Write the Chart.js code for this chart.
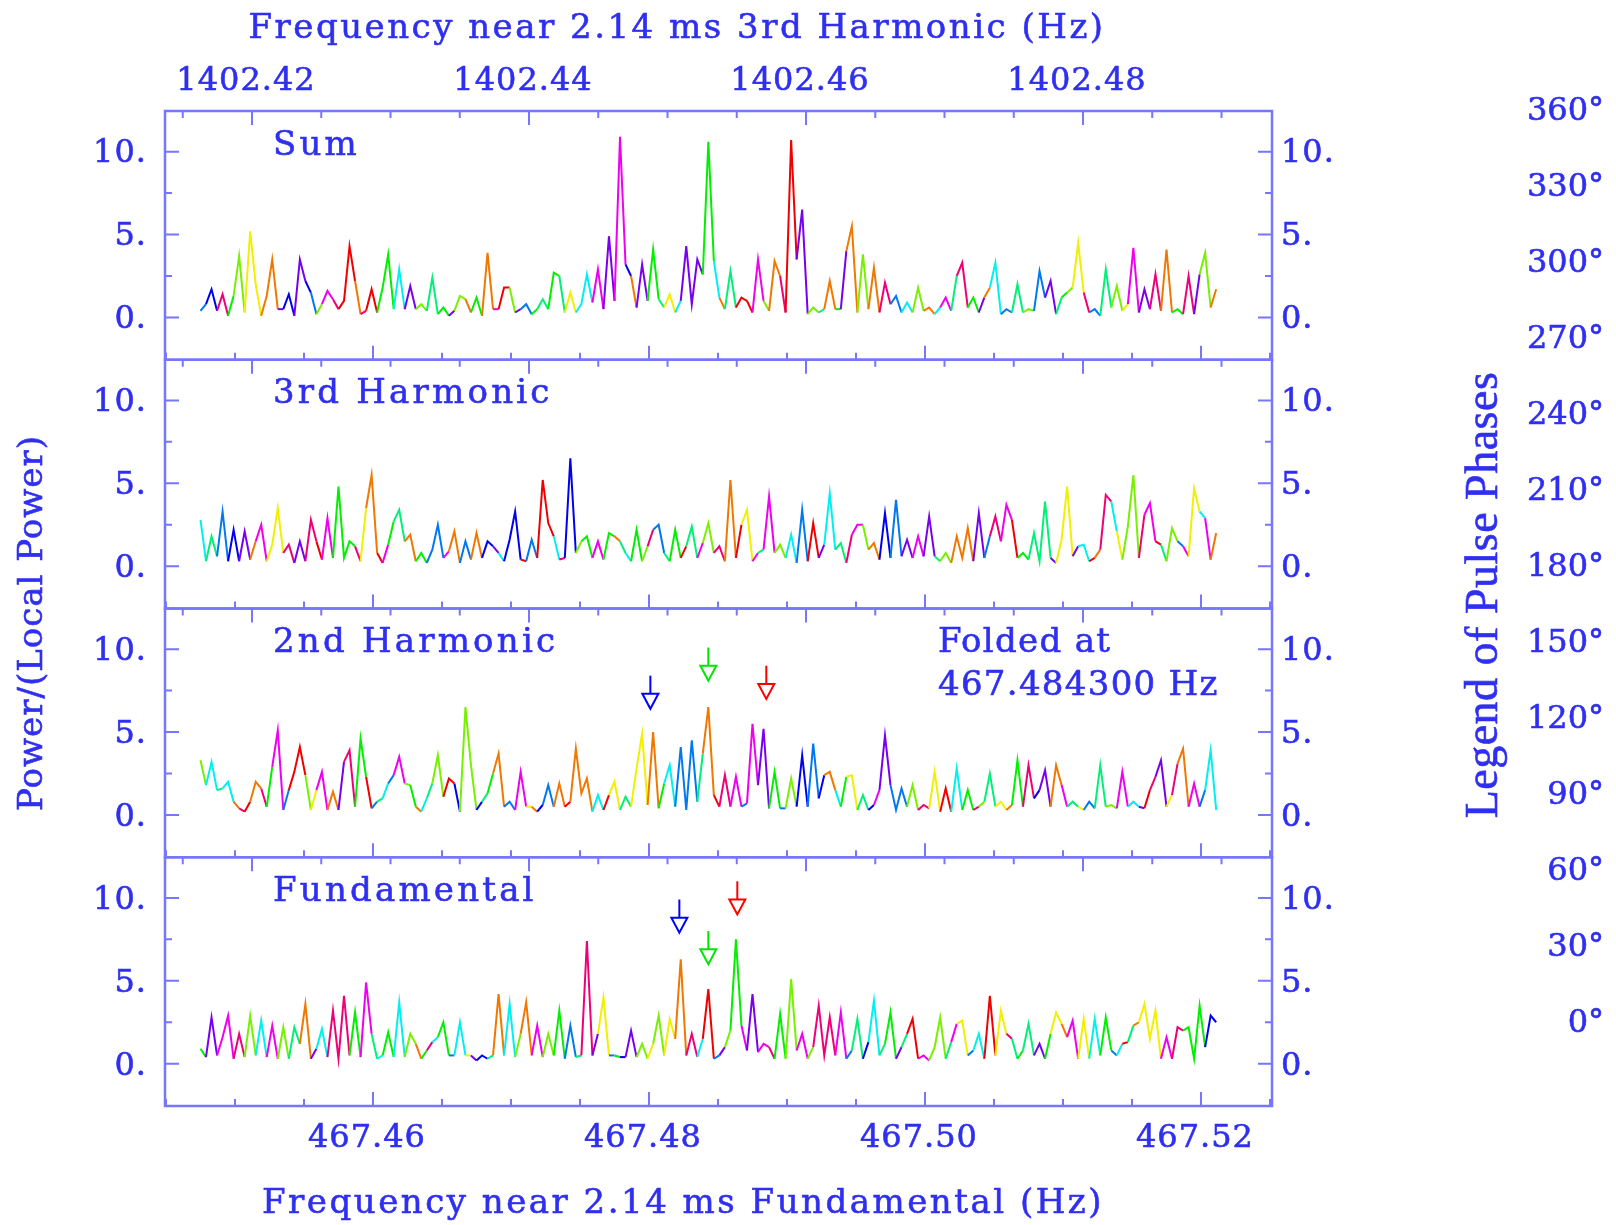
<!DOCTYPE html>
<html><head><meta charset="utf-8">
<script src="https://cdn.jsdelivr.net/npm/chart.js"></script>
<style>html,body{margin:0;padding:0;background:#fff;}canvas{display:block;}</style>
</head><body>
<canvas id="c" width="1616" height="1225"></canvas>
<script>
// ---- frequency grid (fundamental, Hz) ----
const freqs = [
467.4475,467.4479,467.4483,467.4487,467.4491,467.4495,467.4499,467.4503,467.4507,467.4511,
467.4515,467.4519,467.4523,467.4527,467.4531,467.4535,467.4539,467.4543,467.4547,467.4551,
467.4555,467.4559,467.4563,467.4567,467.4571,467.4575,467.4579,467.4583,467.4587,467.4591,
467.4595,467.4599,467.4603,467.4607,467.4611,467.4615,467.4619,467.4623,467.4627,467.4631,
467.4635,467.4639,467.4643,467.4647,467.4651,467.4655,467.4659,467.4663,467.4667,467.4671,
467.4675,467.4679,467.4683,467.4687,467.4691,467.4695,467.4699,467.4703,467.4707,467.4711,
467.4715,467.4719,467.4723,467.4727,467.4731,467.4735,467.4739,467.4743,467.4747,467.4751,
467.4755,467.4759,467.4763,467.4767,467.4771,467.4775,467.4779,467.4783,467.4787,467.4791,
467.4795,467.4799,467.4803,467.4807,467.4811,467.4815,467.4819,467.4823,467.4827,467.4831,
467.4835,467.4839,467.4843,467.4847,467.4851,467.4855,467.4859,467.4863,467.4867,467.4871,
467.4875,467.4879,467.4883,467.4887,467.4891,467.4895,467.4899,467.4903,467.4907,467.4911,
467.4915,467.4919,467.4923,467.4927,467.4931,467.4935,467.4939,467.4943,467.4947,467.4951,
467.4955,467.4959,467.4963,467.4967,467.4971,467.4975,467.4979,467.4983,467.4987,467.4991,
467.4995,467.4999,467.5003,467.5007,467.5011,467.5015,467.5019,467.5023,467.5027,467.5031,
467.5035,467.5039,467.5043,467.5047,467.5051,467.5055,467.5059,467.5063,467.5067,467.5071,
467.5075,467.5079,467.5083,467.5087,467.5091,467.5095,467.5099,467.5103,467.5107,467.5111,
467.5115,467.5119,467.5123,467.5127,467.5131,467.5135,467.5139,467.5143,467.5147,467.5151,
467.5155,467.5159,467.5163,467.5167,467.5171,467.5175,467.5179,467.5183,467.5187,467.5191,
467.5195,467.5199,467.5203,467.5207,467.5211];

// ---- Sum panel ----
const sumPower = [
0.4,0.8,1.7,0.4,1.4,0.1,1.3,3.7,0.3,5.2,
2.0,0.1,1.3,3.5,0.5,0.5,1.4,0.1,3.5,2.2,
1.5,0.2,0.8,1.6,1.1,0.5,1.0,4.3,2.2,0.2,
0.4,1.7,0.3,1.8,3.8,0.5,2.9,0.5,1.9,0.5,
0.8,0.4,2.4,0.2,0.6,0.1,0.4,1.3,1.1,0.3,
1.2,0.1,3.9,0.5,0.5,1.8,1.8,0.3,0.5,0.8,
0.2,0.5,1.1,0.5,2.7,2.5,0.3,1.5,0.3,0.8,
2.6,0.9,2.9,0.5,4.9,1.0,10.9,3.2,2.5,0.6,
3.2,1.0,4.1,1.1,0.6,1.4,0.3,1.0,4.3,0.8,
3.5,2.6,10.6,3.4,1.2,0.5,2.8,0.6,1.2,1.0,
0.3,3.5,1.0,0.4,3.4,2.5,0.3,10.7,3.5,6.5,
0.2,0.6,0.3,0.5,2.2,0.5,0.5,4.0,5.5,0.3,
3.8,0.5,3.0,0.3,2.1,0.8,1.3,0.3,0.9,0.3,
1.8,0.4,0.6,0.2,0.6,1.2,0.4,2.5,3.3,0.6,
1.2,0.3,1.2,1.8,3.3,0.2,0.5,0.3,2.0,0.3,
0.5,0.4,2.8,1.2,2.2,0.2,1.2,1.5,1.8,4.5,
1.5,0.3,0.5,0.1,2.9,0.6,1.9,0.4,0.8,4.2,
0.3,1.7,0.5,2.6,0.4,4.1,0.3,0.5,0.2,2.5,
0.2,2.6,3.9,0.6,1.7];
const sumPhase = [
6,7,8,3,11,0,4,3,5,2,
2,10,1,1,9,6,8,9,9,8,
7,1,3,10,11,1,0,0,1,9,
11,0,5,4,4,9,6,7,9,4,
3,7,5,10,4,3,9,3,1,2,
4,9,1,10,11,0,3,4,9,7,
2,4,5,3,4,5,1,2,11,6,
6,3,10,11,9,7,10,8,1,3,
9,11,4,5,8,2,3,6,9,10,
9,2,4,6,1,5,5,11,0,0,
5,10,3,6,1,11,4,0,8,9,
4,3,6,5,1,4,3,9,1,6,
3,2,1,10,11,8,7,3,6,4,
3,7,1,4,6,10,9,5,11,0,
4,2,9,1,6,1,7,8,5,11,
3,9,7,10,9,6,5,4,3,2,
11,1,7,0,5,9,3,6,2,10,
8,9,6,11,3,1,0,4,6,11,
7,9,3,11,1];

// ---- 3rd Harmonic panel ----
const h3Power = [
2.8,0.3,1.8,0.6,3.3,0.3,2.2,0.3,2.1,0.4,
1.5,2.5,0.3,1.3,3.5,0.8,1.3,0.2,1.5,0.3,
2.8,1.5,0.4,2.9,0.5,4.8,0.5,1.5,1.2,0.3,
3.5,5.5,0.8,0.2,1.3,2.7,3.4,1.5,1.9,0.3,
0.8,0.2,1.0,2.5,0.5,0.9,2.1,0.2,1.5,0.4,
2.0,0.5,1.5,1.2,0.8,0.3,1.6,3.3,0.4,0.3,
1.6,0.5,5.2,2.6,1.8,0.4,0.5,6.5,0.8,1.5,
1.8,0.5,1.5,0.4,2.0,1.8,1.5,0.8,0.3,2.2,
0.3,1.2,2.2,2.5,0.8,0.3,2.2,0.5,1.2,2.4,
0.5,1.4,2.6,0.8,1.2,0.3,5.2,0.5,2.5,3.4,
0.3,0.8,1.0,4.2,0.8,1.3,0.5,1.9,0.2,3.4,
0.3,2.6,0.5,1.3,4.4,1.0,1.4,0.2,1.9,2.5,
2.5,1.0,1.4,0.4,3.2,0.5,4.0,0.6,1.6,0.5,
1.8,0.6,3.0,0.6,0.3,0.8,0.2,1.8,0.5,2.3,
0.3,3.2,0.5,1.8,3.0,1.5,3.7,2.8,0.5,0.8,
0.4,2.0,0.3,3.9,0.5,0.2,1.6,4.8,0.6,1.2,
1.3,0.3,0.5,1.0,4.3,3.9,2.1,0.4,2.4,5.5,
0.5,3.1,3.8,1.5,1.3,0.3,2.3,1.5,1.2,0.6,
4.7,3.3,2.9,0.4,2.0];
const h3Phase = [
6,1,5,7,7,11,8,3,9,0,
1,10,4,2,2,6,11,10,9,11,
11,0,10,10,2,4,5,4,11,3,
2,1,0,9,10,4,5,5,1,7,
4,9,7,7,3,10,1,6,7,3,
1,11,8,9,6,5,8,8,0,4,
7,5,0,0,6,8,11,8,6,3,
4,1,10,2,4,1,5,6,9,4,
10,3,11,7,5,3,4,8,0,5,
1,10,3,4,11,1,1,9,0,2,
3,10,5,10,11,3,8,6,1,7,
0,0,5,9,6,2,5,4,11,10,
3,8,1,4,8,6,7,0,9,2,
10,1,9,5,0,3,6,1,10,1,
4,9,3,7,11,10,10,0,6,4,
3,5,7,5,9,4,2,2,8,9,
6,5,0,1,11,6,2,4,3,3,
9,11,10,0,5,1,3,7,10,9,
2,6,10,4,1];

// ---- 2nd Harmonic panel ----
const h2Power = [
3.3,1.8,3.2,1.5,1.6,2.0,0.8,0.4,0.2,0.8,
2.0,1.6,0.5,2.9,5.1,0.3,1.5,2.6,4.1,2.4,
0.3,1.5,2.6,0.3,1.4,0.3,3.2,3.9,0.5,4.6,
2.3,0.4,0.8,1.0,1.9,2.4,3.5,1.9,1.8,0.5,
0.2,1.0,1.9,3.6,1.1,2.2,1.9,0.2,6.5,3.0,
0.3,0.8,1.3,2.5,3.7,0.5,0.8,0.3,2.6,0.5,
0.5,0.2,0.6,1.8,0.5,1.9,0.5,0.8,4.0,1.3,
2.2,0.2,1.2,0.3,1.2,2.0,0.3,1.1,0.5,2.8,
4.9,0.6,5.0,0.4,1.9,3.0,0.5,4.1,0.3,4.5,
0.8,3.7,6.5,1.2,0.5,2.4,0.5,2.3,0.5,0.7,
5.5,1.8,5.2,0.4,2.6,0.4,0.4,2.2,0.5,3.6,
0.5,4.3,1.0,2.4,2.6,1.5,0.5,2.3,2.4,0.3,
1.2,0.3,0.6,1.5,4.8,1.8,0.3,1.6,0.5,1.8,
0.3,0.6,0.4,2.6,0.2,1.6,0.2,2.8,0.3,1.5,
0.3,0.5,0.8,2.5,0.5,0.8,0.3,0.6,3.3,0.5,
3.0,1.0,1.5,2.7,0.5,3.0,1.8,0.5,0.8,0.5,
0.3,0.8,0.4,3.0,0.5,0.6,0.4,2.6,0.5,0.8,
0.5,0.4,1.5,2.3,3.3,0.5,1.2,3.1,4.0,0.5,
1.9,0.5,1.5,3.9,0.3];
const h2Phase = [
3,10,6,7,5,6,1,11,4,0,
1,11,5,4,10,9,7,0,0,3,
10,2,10,6,1,5,9,11,4,4,
0,3,7,5,6,7,10,3,4,1,
2,6,5,3,7,0,8,9,3,3,
6,8,5,4,1,3,7,11,10,2,
1,4,8,7,6,1,5,0,1,11,
1,3,6,10,0,2,10,5,9,2,
2,0,1,11,4,6,10,7,0,7,
4,5,1,0,6,11,5,10,3,7,
10,1,9,8,4,7,10,3,4,8,
5,7,4,8,1,6,9,4,2,11,
5,3,8,10,9,7,1,7,4,3,
10,11,9,2,5,0,3,6,9,4,
2,11,3,5,0,2,7,1,4,10,
11,0,8,9,3,1,10,6,5,2,
4,7,11,5,0,3,8,10,1,6,
9,2,0,11,9,5,2,11,1,4,
10,3,7,6,1];

// ---- Fundamental panel ----
const fundPower = [
0.9,0.4,2.8,0.5,1.6,2.9,0.3,1.8,0.4,2.9,
0.5,2.6,0.4,2.3,0.3,2.2,0.3,2.2,1.2,3.6,
0.3,0.9,2.1,0.4,3.2,0.3,4.1,0.5,3.1,0.4,
4.9,1.8,0.3,0.5,1.9,0.4,3.7,0.4,1.8,1.2,
0.3,0.8,1.3,1.6,2.5,0.5,0.5,2.5,0.5,0.5,
0.2,0.5,0.3,0.5,4.2,0.5,3.6,0.4,1.8,3.7,
0.5,2.3,0.4,1.8,0.5,3.2,0.3,2.3,0.4,0.5,
7.4,0.5,1.8,4.0,0.5,0.5,0.4,0.4,2.0,0.4,
1.2,0.3,1.2,2.9,0.5,2.7,1.5,6.3,0.5,1.8,
0.4,1.5,4.5,0.3,0.5,1.0,2.0,7.5,2.3,0.8,
4.2,0.7,1.2,1.0,0.3,3.0,0.3,5.1,0.8,1.8,
0.3,1.0,3.5,0.5,2.8,0.5,3.1,0.3,0.8,2.7,
0.3,1.3,3.8,0.5,1.2,3.1,0.3,1.0,1.8,2.7,
0.3,0.5,0.2,1.0,2.8,0.3,1.3,2.4,2.6,0.5,
0.8,1.8,0.3,4.1,0.5,3.2,1.8,1.5,0.3,0.8,
2.4,0.5,1.2,0.3,1.8,3.1,2.4,1.6,2.6,0.3,
2.7,0.3,2.7,0.5,2.8,0.8,0.5,1.2,1.3,2.3,
2.5,3.6,1.5,3.2,0.3,1.6,0.3,2.2,2.0,2.2,
0.3,3.5,1.0,2.9,2.5];
const fundPhase = [
4,5,9,2,10,10,3,11,6,3,
9,6,7,10,8,3,6,5,1,1,
8,9,6,0,11,6,11,2,4,7,
10,5,9,6,4,7,6,8,3,1,
5,4,11,6,4,7,6,6,2,9,
5,8,3,5,1,6,6,0,3,1,
6,10,8,3,7,4,2,7,9,5,
11,0,9,2,7,4,8,11,9,6,
3,5,2,3,10,2,4,1,0,11,
8,6,0,5,7,9,3,4,10,3,
9,5,10,11,7,4,1,3,0,10,
6,3,11,8,11,6,10,4,7,5,
2,8,6,11,5,4,0,9,5,0,
7,10,6,3,3,8,5,10,2,3,
7,6,1,0,9,2,11,5,8,4,
5,3,9,6,4,2,1,10,10,11,
2,5,6,9,4,7,3,6,0,5,
1,2,6,2,9,10,6,11,10,4,
7,4,10,8,0];

// ---- labels / annotations ----
const panelNames = ['Sum', '3rd Harmonic', '2nd Harmonic', 'Fundamental'];
const bottomTickLabels = ['467.46', '467.48', '467.50', '467.52'];
const topTickLabels = ['1402.42', '1402.44', '1402.46', '1402.48'];
const yTickLabels = ['0.', '5.', '10.'];
const yTickValues = [0, 5, 10];
const yMinorValues = [2.5, 7.5];
const legendPhaseLabels = ['360°','330°','300°','270°','240°','210°','180°','150°','120°','90°','60°','30°','0°'];
const h2ArrowFreqs = [467.4801, 467.4843, 467.4885];
const h2ArrowTips = [6.4, 8.1, 7.0];
const fundArrowFreqs = [467.4822, 467.4843, 467.4864];
const fundArrowTips = [7.9, 6.0, 9.0];
const arrowColors = ['#0000ff', '#00e600', '#ff0000'];

const TEXT = '#2f2ff2', FRAME = '#7676ff';
const Y_MIN = -2.55, Y_MAX = 12.45, SPAN = 15;
const panelIds = ['ySum', 'yH3', 'yH2', 'yFund'];
const panelPower = [sumPower, h3Power, h2Power, fundPower];
const panelPhase = [sumPhase, h3Phase, h2Phase, fundPhase];

function hueColor(p) { return 'hsl(' + (p * 30) + ',100%,47%)'; }
function segColor(k, c) {
  const v = panelPower[k], ph = panelPhase[k];
  const i0 = c.p0DataIndex, i1 = c.p1DataIndex;
  let p = (v[i1] > v[i0]) ? ph[i1] : ph[i0];
  if (p === undefined) p = 8;
  return hueColor(p);
}
function drawText(ctx, s, x, y, font, align, spacing, rot) {
  ctx.save();
  ctx.translate(x, y);
  if (rot) ctx.rotate(rot);
  ctx.font = font; ctx.textAlign = align; ctx.textBaseline = 'middle';
  if ('letterSpacing' in ctx) ctx.letterSpacing = (spacing || 0) + 'px';
  ctx.fillStyle = TEXT;
  ctx.strokeStyle = TEXT;
  ctx.lineWidth = 0.6;
  ctx.fillText(s, 0, 2.5);
  ctx.strokeText(s, 0, 2.5);
  ctx.restore();
}

const TICK_FONT = '32px "DejaVu Serif"';
const TITLE_FONT = '34px "DejaVu Serif"';

const framePlugin = {
  id: 'framePlugin',
  afterDraw(chart) {
    const ctx = chart.ctx, ca = chart.chartArea;
    const xb = chart.scales.x, xt = chart.scales.xTop;
    ctx.save();
    panelIds.forEach((id, k) => {
      const ys = chart.scales[id];
      const top = ys.getPixelForValue(Y_MAX), bot = ys.getPixelForValue(Y_MIN);
      ctx.strokeStyle = FRAME; ctx.lineWidth = 2;
      ctx.beginPath();
      yTickValues.concat(yMinorValues).forEach(v => {
        const py = ys.getPixelForValue(v);
        const len = yTickValues.includes(v) ? 14 : 7;
        ctx.moveTo(ca.left, py); ctx.lineTo(ca.left + len, py);
        ctx.moveTo(ca.right, py); ctx.lineTo(ca.right - len, py);
      });
      for (let m = Math.ceil(xb.min / 0.005); m * 0.005 <= xb.max; m++) {
        const px = xb.getPixelForValue(m * 0.005);
        const len = (m % 4 === 0) ? 14 : 7;
        ctx.moveTo(px, bot); ctx.lineTo(px, bot - len);
      }
      for (let m = Math.ceil(xt.min / 0.005); m * 0.005 <= xt.max; m++) {
        const px = xt.getPixelForValue(m * 0.005);
        const len = (m % 4 === 0) ? 14 : 7;
        ctx.moveTo(px, top); ctx.lineTo(px, top + len);
      }
      ctx.stroke();
      ctx.lineWidth = 2.5;
      ctx.strokeRect(ca.left, top, ca.right - ca.left, bot - top);
      yTickLabels.forEach((lab, j) => {
        const py = ys.getPixelForValue(yTickValues[j]);
        drawText(ctx, lab, 147, py, TICK_FONT, 'right', 1);
        drawText(ctx, lab, 1281, py, TICK_FONT, 'left', 1);
      });
      drawText(ctx, panelNames[k], 273, ys.getPixelForValue(10.5), TITLE_FONT, 'left', 3.2);
    });
    // axis tick labels
    topTickLabels.forEach(l => drawText(ctx, l, xt.getPixelForValue(parseFloat(l)) - 6, 79, TICK_FONT, 'center', 1));
    bottomTickLabels.forEach(l => drawText(ctx, l, xb.getPixelForValue(parseFloat(l)) - 6, 1136, TICK_FONT, 'center', 1));
    // titles
    drawText(ctx, 'Frequency near 2.14 ms 3rd Harmonic (Hz)', 677, 27, TITLE_FONT, 'center', 2.5);
    drawText(ctx, 'Frequency near 2.14 ms Fundamental (Hz)', 683, 1202, TITLE_FONT, 'center', 2.5);
    drawText(ctx, 'Power/(Local Power)', 31, 623, TITLE_FONT, 'center', 1, -Math.PI / 2);
    // folded annotation
    const yh2 = chart.scales.yH2;
    drawText(ctx, 'Folded at', 938, yh2.getPixelForValue(10.5), TITLE_FONT, 'left', 1.3);
    drawText(ctx, '467.484300 Hz', 938, yh2.getPixelForValue(7.9), TITLE_FONT, 'left', 1.3);
    // arrows
    [[chart.scales.yH2, h2ArrowFreqs, h2ArrowTips], [chart.scales.yFund, fundArrowFreqs, fundArrowTips]].forEach(([ys, fs, ts]) => {
      fs.forEach((f, j) => {
        const x = xb.getPixelForValue(f);
        const yTip = ys.getPixelForValue(ts[j]);
        const yTop = ys.getPixelForValue(ts[j] + 2.0);
        const hh = 15, hw = 8;
        ctx.strokeStyle = arrowColors[j]; ctx.lineWidth = 2;
        ctx.beginPath();
        ctx.moveTo(x, yTop); ctx.lineTo(x, yTip - hh);
        ctx.stroke();
        ctx.beginPath();
        ctx.moveTo(x - hw, yTip - hh); ctx.lineTo(x + hw, yTip - hh); ctx.lineTo(x, yTip); ctx.closePath();
        ctx.stroke();
      });
    });
    // phase legend
    drawText(ctx, 'Legend of Pulse Phases', 1482, 595, '46px "Liberation Serif"', 'center', 0.5, -Math.PI / 2);
    legendPhaseLabels.forEach((l, j) => drawText(ctx, l, 1604, 109 + 76 * j, '32px "DejaVu Serif"', 'right', 0));
    ctx.restore();
  }
};

const scales = {
  x: { type: 'linear', position: 'bottom', min: 467.444928, max: 467.525145, display: false },
  xTop: { type: 'linear', position: 'top', min: 1402.413718, max: 1402.493646, display: false }
};
panelIds.forEach((id, k) => {
  scales[id] = { type: 'linear', position: 'left', display: false,
    min: Y_MIN - (3 - k) * SPAN, max: Y_MAX + k * SPAN };
});

const datasets = panelPower.map((vals, k) => ({
  label: panelNames[k],
  data: freqs.map((f, i) => ({ x: f, y: vals[i] })),
  xAxisID: 'x',
  yAxisID: panelIds[k],
  borderWidth: 2,
  borderColor: '#0000ff',
  pointRadius: 0,
  tension: 0,
  fill: false,
  segment: { borderColor: c => segColor(k, c) }
}));

new Chart(document.getElementById('c'), {
  type: 'line',
  data: { datasets },
  options: {
    responsive: false,
    animation: false,
    devicePixelRatio: 1,
    events: [],
    layout: { padding: { left: 165, right: 344, top: 111, bottom: 119 } },
    plugins: { legend: { display: false }, tooltip: { enabled: false } },
    scales
  },
  plugins: [framePlugin]
});
</script>
</body></html>
